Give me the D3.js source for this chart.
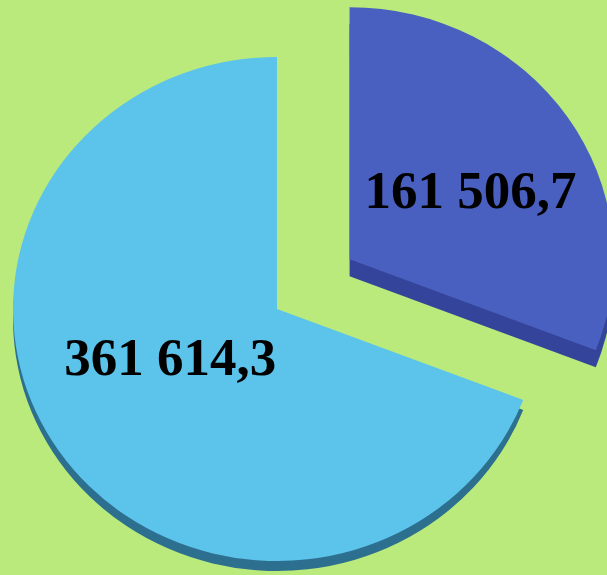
<!DOCTYPE html>
<html>
<head>
<meta charset="utf-8">
<script src="https://cdn.jsdelivr.net/npm/d3@7"></script>
<style>
  html, body { margin: 0; padding: 0; background: #b9ea7b; }
  svg { display: block; }
</style>
</head>
<body>
<div id="chart"></div>
<script>
// values
const labels = ["161 506,7", "361 614,3"]
const values = [161506.7, 361614.3]
const topColors = ["#4a60c0", "#5cc3eb"]
const sideColors = ["#34449a", "#2d6f8f"]

const width = 607, height = 575
const cx = 277, cy = 309
const rx = 264, ry = 252
const explode = 88

const svg = d3.select("#chart").append("svg")
    .attr("width", width)
    .attr("height", height)

svg.append("rect").attr("width", width).attr("height", height).attr("fill", "#b9ea7b")

const pie = d3.pie().sort(null).value(d => d)
const arcs = pie(values)

const arc = d3.arc().innerRadius(0).outerRadius(rx)
const depth = [17, 10]

// slice offset (only the small slice is pulled out)
function offset(d, i) {
    if (i !== 0) return [0, 0]
    const a = (d.startAngle + d.endAngle) / 2
    return [Math.sin(a) * explode, -Math.cos(a) * explode]
}

const slices = svg.selectAll("g.slice")
    .data(arcs)
    .join("g")
    .attr("class", "slice")
    .attr("transform", (d, i) => {
        const o = offset(d, i)
        return "translate(" + (cx + o[0]) + "," + (cy + o[1]) + ")"
    })

// side (thickness)
slices.append("path")
    .attr("d", arc)
    .attr("transform", (d, i) => "translate(0," + depth[i] + ") scale(1," + (ry / rx) + ")")
    .attr("fill", (d, i) => sideColors[i])

// top face
slices.append("path")
    .attr("d", arc)
    .attr("transform", "scale(1," + (ry / rx) + ")")
    .attr("fill", (d, i) => topColors[i])

// labels
const labelArc = d3.arc().innerRadius(0).outerRadius(rx)
const labelShift = [[12, 20], [2, -5]]
slices.append("text")
    .attr("x", (d, i) => {
        const c = labelArc.centroid(d)
        return c[0] + labelShift[i][0]
    })
    .attr("y", (d, i) => {
        const c = labelArc.centroid(d)
        return c[1] * (ry / rx) + labelShift[i][1]
    })
    .attr("text-anchor", "middle")
    .style("font-family", "'Liberation Serif', 'Times New Roman', serif")
    .style("font-weight", "bold")
    .style("font-size", "53px")
    .attr("fill", "#000")
    .text((d, i) => labels[i])
</script>
</body>
</html>
